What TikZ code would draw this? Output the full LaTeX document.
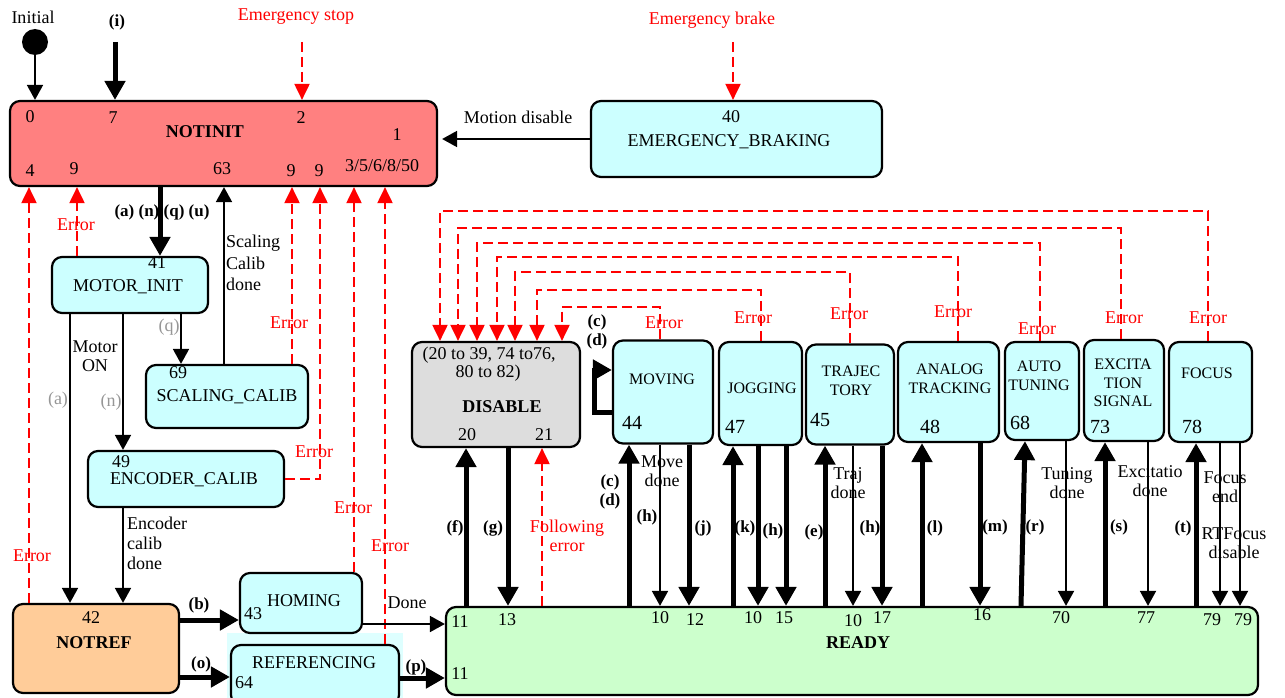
\documentclass[tikz,border=0pt]{standalone}
\usepackage{fontspec}
\setmainfont{Liberation Serif}
\usetikzlibrary{arrows.meta}
\definecolor{notinitred}{RGB}{255,128,128}
\definecolor{modecyan}{RGB}{204,255,255}
\definecolor{refback}{RGB}{222,255,255}
\definecolor{notreforange}{RGB}{255,204,153}
\definecolor{readygreen}{RGB}{204,255,204}
\definecolor{disablegrey}{RGB}{221,221,221}
\definecolor{labelgrey}{RGB}{150,150,150}
\begin{document}
\begin{tikzpicture}[x=1pt,y=-1pt,
  every node/.style={inner sep=0pt,font=\fontsize{18}{21}\selectfont},
  statebox/.style={draw,line width=2.2pt,rounded corners=10pt,fill=modecyan},
  modename/.style={align=center,font=\fontsize{16}{18.5}\selectfont},
  twoline/.style={align=center,font=\fontsize{18}{19}\selectfont},
  bignum/.style={font=\fontsize{20}{22}\selectfont},
  trig/.style={font=\bfseries\fontsize{17}{18.5}\selectfont,align=center},
  greytrig/.style={text=labelgrey},
  errlbl/.style={text=red},
  linearr/.style={line width=1.8pt,-{Triangle[length=15pt,width=16pt]}},
  thickarr/.style={line width=5pt,-{Triangle[length=19pt,width=20pt]}},
  errarr/.style={red,line width=2pt,dash pattern=on 10pt off 5pt,-{Triangle[length=16pt,width=15pt]}}]
\path[use as bounding box] (0,0) rectangle (1285,698);
\fill[refback] (227,633) rectangle (403,698);
\node[statebox,fill=notinitred,minimum width=427pt,minimum height=85pt] (notinit) at (223.5,143.5) {};
\node[statebox,minimum width=291pt,minimum height=76pt] (braking) at (736.5,139) {};
\node[statebox,minimum width=156pt,minimum height=56pt] (motorinit) at (130,285) {};
\node[statebox,minimum width=162pt,minimum height=63pt] (scaling) at (227,396.5) {};
\node[statebox,minimum width=196pt,minimum height=56pt] (encoder) at (186,479) {};
\node[statebox,fill=notreforange,minimum width=166pt,minimum height=89pt] (notref) at (96,648.5) {};
\node[statebox,minimum width=122pt,minimum height=60pt] (homing) at (301,603) {};
\node[statebox,minimum width=168pt,minimum height=60pt] (referencing) at (315,675) {};
\node[statebox,fill=readygreen,minimum width=812pt,minimum height=88pt] (ready) at (852,651) {};
\node[statebox,fill=disablegrey,minimum width=168pt,minimum height=105pt] (disable) at (496,394.5) {};
\node[statebox,minimum width=100pt,minimum height=103pt] (moving) at (663,392) {};
\node[statebox,minimum width=83pt,minimum height=103pt] (jogging) at (760.5,393.5) {};
\node[statebox,minimum width=88pt,minimum height=100pt] (trajectory) at (850,394.5) {};
\node[statebox,minimum width=101pt,minimum height=100pt] (analog) at (948.5,392) {};
\node[statebox,minimum width=74pt,minimum height=98pt] (autotuning) at (1042,391) {};
\node[statebox,minimum width=80pt,minimum height=101pt] (excitation) at (1124,390.5) {};
\node[statebox,minimum width=83pt,minimum height=100pt] (focus) at (1210.5,392) {};
\node[circle,fill=black,minimum size=26pt] (init) at (35,42) {};
\coordinate (itop) at (115,42);
\coordinate (estoptop) at (302,42);
\coordinate (ebraketop) at (733,42);
\node (initial) at (33,17) {Initial};
\node[trig] (ilbl) at (117,22) {(i)};
\node[errlbl] (estop) at (296,17) {Emergency stop};
\node[errlbl] (ebrake) at (712,20) {Emergency brake};
\node (ni0) at (30,117) {0};
\node (ni7) at (113,118) {7};
\node (ni2) at (301,118) {2};
\node[font=\bfseries\fontsize{18}{21}\selectfont] (nititle) at (205,132) {NOTINIT};
\node (ni1) at (397,135) {1};
\node (ni4) at (30,171) {4};
\node (ni9a) at (74,169) {9};
\node (ni63) at (222,169) {63};
\node (ni9b) at (291,171) {9};
\node (ni9c) at (319,171) {9};
\node (nirest) at (382,166) {3/5/6/8/50};
\node (eb40) at (731,117) {40};
\node (ebtitle) at (729,142) {EMERGENCY\_BRAKING};
\node (motiondis) at (518,117) {Motion disable};
\node (mi41) at (157,263) {41};
\node (mititle) at (128,287) {MOTOR\_INIT};
\node[trig] (anqu) at (162,212) {(a) (n) (q) (u)};
\node[errlbl] (errmi) at (76,225) {Error};
\node[align=left,anchor=west,font=\fontsize{18}{21.5}\selectfont] (scaldone) at (226,263) {Scaling\\Calib\\done};
\node[greytrig] (qgrey) at (169,327) {(q)};
\node[twoline] (motoron) at (95,356) {Motor\\ON};
\node[greytrig] (agrey) at (58,400) {(a)};
\node[greytrig] (ngrey) at (111,402) {(n)};
\node (sc69) at (178,373) {69};
\node (sctitle) at (227,397) {SCALING\_CALIB};
\node[errlbl] (errsc) at (289,323) {Error};
\node (en49) at (121,462) {49};
\node (entitle) at (184,480) {ENCODER\_CALIB};
\node[errlbl] (erren) at (314,452) {Error};
\node[align=left,anchor=west,font=\fontsize{18}{20}\selectfont] (encdone) at (127,543) {Encoder\\calib\\done};
\node[errlbl] (errleft) at (32,556) {Error};
\node[errlbl] (errhom) at (353,508) {Error};
\node[errlbl] (errref) at (390,546) {Error};
\node (nr42) at (91,618) {42};
\node[font=\bfseries\fontsize{18}{21}\selectfont] (nrtitle) at (94,643) {NOTREF};
\node[trig] (blbl) at (199,605) {(b)};
\node[trig] (olbl) at (201,664) {(o)};
\node (homtitle) at (304,601) {HOMING};
\node (hom43) at (253,614) {43};
\node (donelbl) at (407,603) {Done};
\node (reftitle) at (314,663) {REFERENCING};
\node (ref64) at (244,683) {64};
\node[trig] (plbl) at (416,667) {(p)};
\node (dis1) at (489,355) {(20 to 39, 74 to76,};
\node (dis2) at (488,373) {80 to 82)};
\node[font=\bfseries\fontsize{18}{21}\selectfont] (distitle) at (502,407) {DISABLE};
\node (dis20) at (467,435) {20};
\node (dis21) at (544,435) {21};
\node[trig] (flbl) at (455,528) {(f)};
\node[trig] (glbl) at (493,528) {(g)};
\node[twoline,text=red] (follerr) at (567,536) {Following\\error};
\node[trig] (cdloop) at (597,332) {(c)\\(d)};
\node[modename] (movtitle) at (662,379) {MOVING};
\node[bignum] (mov44) at (632,423) {44};
\node[modename] (jogtitle) at (762,388) {JOGGING};
\node[bignum] (jog47) at (735,427) {47};
\node[modename] (trajtitle) at (851,381) {TRAJEC\\TORY};
\node[bignum] (traj45) at (820,420) {45};
\node[modename] (antitle) at (950,379) {ANALOG\\TRACKING};
\node[bignum] (an48) at (930,427) {48};
\node[modename] (auttitle) at (1039,376) {AUTO\\TUNING};
\node[bignum] (aut68) at (1020,423) {68};
\node[modename] (extitle) at (1123,383) {EXCITA\\TION\\SIGNAL};
\node[bignum] (ex73) at (1100,427) {73};
\node[modename] (foctitle) at (1207,373) {FOCUS};
\node[bignum] (foc78) at (1192,427) {78};
\node[errlbl] (errmov) at (664,323) {Error};
\node[errlbl] (errjog) at (753,318) {Error};
\node[errlbl] (errtraj) at (849,314) {Error};
\node[errlbl] (erran) at (953,312) {Error};
\node[errlbl] (erraut) at (1037,329) {Error};
\node[errlbl] (errex) at (1124,318) {Error};
\node[errlbl] (errfoc) at (1208,318) {Error};
\node[trig] (cdlbl) at (610,492) {(c)\\(d)};
\node[twoline] (movdone) at (662,471) {Move\\done};
\node[trig] (hlbla) at (647,517) {(h)};
\node[trig] (jlbl) at (703,528) {(j)};
\node[trig] (klbl) at (745,528) {(k)};
\node[trig] (hlblb) at (773,531) {(h)};
\node[trig] (elbl) at (814,532) {(e)};
\node[twoline] (trajdone) at (848,483) {Traj\\done};
\node[trig] (hlblc) at (870,528) {(h)};
\node[trig] (llbl) at (935,528) {(l)};
\node[trig] (mlbl) at (995,527) {(m)};
\node[trig] (rlbl) at (1035,527) {(r)};
\node[twoline] (tundone) at (1067,483) {Tuning\\done};
\node[trig] (slbl) at (1119,527) {(s)};
\node[twoline] (exdone) at (1150,481) {Excitatio\\done};
\node[trig] (tlbl) at (1183,528) {(t)};
\node[twoline] (focend) at (1225,487) {Focus\\end};
\node[twoline] (rtfocus) at (1234,543) {RTFocus\\disable};
\node (rd11a) at (460,622) {11};
\node (rd13) at (507,620) {13};
\node (rd10a) at (660,618) {10};
\node (rd12) at (695,620) {12};
\node (rd10b) at (753,618) {10};
\node (rd15) at (784,618) {15};
\node (rd10c) at (853,621) {10};
\node (rd17) at (882,618) {17};
\node (rd16) at (982,615) {16};
\node (rd70) at (1061,618) {70};
\node (rd77) at (1146,618) {77};
\node (rd79a) at (1212,620) {79};
\node (rd79b) at (1243,620) {79};
\node[font=\bfseries\fontsize{18}{21}\selectfont] (rdtitle) at (858,643) {READY};
\node (rd11b) at (460,674) {11};
\draw[linearr] (init) -- (notinit.north -| init);
\draw[thickarr] (itop) -- (notinit.north -| itop);
\draw[errarr] (estoptop) -- (notinit.north -| estoptop);
\draw[errarr] (ebraketop) -- (braking.north -| ebraketop);
\draw[linearr,shorten >=4pt] (braking.west) -- (notinit.east |- braking.west);
\draw[thickarr] (notinit.south -| 160,0) -- (motorinit.north -| 160,0);
\draw[errarr] (motorinit.north -| 77,0) -- (notinit.south -| 77,0);
\draw[errarr] (notref.north -| 29,0) -- (notinit.south -| 29,0);
\draw[linearr] (motorinit.south -| 70,0) -- (notref.north -| 70,0);
\draw[linearr] (motorinit.south -| 123,0) -- (encoder.north -| 123,0);
\draw[linearr] (motorinit.south -| 181,0) -- (scaling.north -| 181,0);
\draw[linearr] (scaling.north -| 224,0) -- (notinit.south -| 224,0);
\draw[errarr] (scaling.north -| 292,0) -- (notinit.south -| 292,0);
\draw[errarr] (encoder.east) -| (notinit.south -| 320,0);
\draw[linearr] (encoder.south -| 123,0) -- (notref.north -| 123,0);
\draw[errarr] (homing.north -| 354,0) -- (notinit.south -| 354,0);
\draw[errarr] (referencing.north -| 385,0) -- (notinit.south -| 385,0);
\draw[thickarr] (notref.east |- 0,620) -- (homing.west |- 0,620);
\draw[thickarr] (notref.east |- 0,677) -- (referencing.west |- 0,677);
\draw[linearr] (homing.east |- 0,624) -- (ready.west |- 0,624);
\draw[thickarr] (referencing.east |- 0,678) -- (ready.west |- 0,678);
\draw[thickarr] (ready.north -| 466,0) -- (disable.south -| 466,0);
\draw[thickarr] (disable.south -| 508,0) -- (ready.north -| 508,0);
\draw[errarr] (ready.north -| 542,0) -- (disable.south -| 542,0);
\draw[thickarr] (moving.west |- 0,412) -- (594,412) -- (594,370) -- (moving.west |- 0,370);
\draw[errarr] (moving.north -| 660,0) -- (660,307) -| (disable.north -| 562,0);
\draw[errarr] (jogging.north -| 761,0) -- (761,290) -| (disable.north -| 537,0);
\draw[errarr] (trajectory.north -| 850,0) -- (850,272) -| (disable.north -| 515,0);
\draw[errarr] (analog.north -| 958,0) -- (958,257) -| (disable.north -| 497,0);
\draw[errarr] (autotuning.north -| 1040,0) -- (1040,243) -| (disable.north -| 477,0);
\draw[errarr] (excitation.north -| 1121,0) -- (1121,228) -| (disable.north -| 458,0);
\draw[errarr] (focus.north -| 1208,0) -- (1208,211) -| (disable.north -| 440,0);
\draw[thickarr] (ready.north -| 629,0) -- (moving.south -| 629,0);
\draw[linearr] (moving.south -| 660,0) -- (ready.north -| 660,0);
\draw[thickarr] (moving.south -| 689,0) -- (ready.north -| 689,0);
\draw[thickarr] (ready.north -| 733,0) -- (jogging.south -| 733,0);
\draw[thickarr] (jogging.south -| 758,0) -- (ready.north -| 758,0);
\draw[thickarr] (jogging.south -| 786,0) -- (ready.north -| 786,0);
\draw[thickarr] (ready.north -| 825,0) -- (trajectory.south -| 825,0);
\draw[linearr] (trajectory.south -| 853,0) -- (ready.north -| 853,0);
\draw[thickarr] (trajectory.south -| 882,0) -- (ready.north -| 882,0);
\draw[thickarr] (ready.north -| 922,0) -- (analog.south -| 922,0);
\draw[thickarr] (analog.south -| 980,0) -- (ready.north -| 980,0);
\draw[thickarr] (ready.north -| 1021,0) -- (autotuning.south -| 1025,0);
\draw[linearr] (autotuning.south -| 1066,0) -- (ready.north -| 1066,0);
\draw[thickarr] (ready.north -| 1105,0) -- (excitation.south -| 1105,0);
\draw[linearr] (excitation.south -| 1148,0) -- (ready.north -| 1148,0);
\draw[thickarr] (ready.north -| 1196,0) -- (focus.south -| 1196,0);
\draw[linearr] (focus.south -| 1220,0) -- (ready.north -| 1220,0);
\draw[linearr] (focus.south -| 1240,0) -- (ready.north -| 1240,0);
\end{tikzpicture}
\end{document}
